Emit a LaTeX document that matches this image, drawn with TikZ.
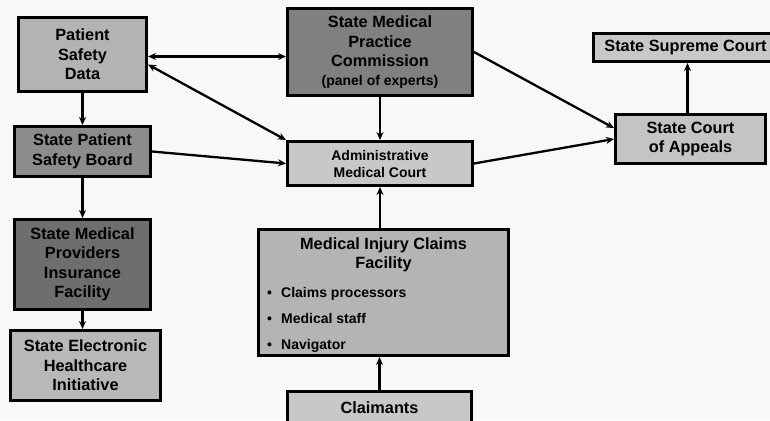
\documentclass[tikz,border=0pt]{standalone}
\usepackage{fontspec}
\setmainfont{Liberation Sans}
\usetikzlibrary{arrows.meta,calc}
\definecolor{bg}{HTML}{F8F8F8}
\definecolor{cA}{HTML}{B3B3B3}
\definecolor{cB}{HTML}{8C8C8C}
\definecolor{cC}{HTML}{808080}
\definecolor{cD}{HTML}{C8C8C8}
\definecolor{cE}{HTML}{C4C4C4}
\definecolor{cF}{HTML}{6E6E6E}
\definecolor{cG}{HTML}{B8B8B8}
\definecolor{cH}{HTML}{B4B4B4}
\begin{document}
\begin{tikzpicture}[x=1pt,y=-1pt,
  box/.style={draw=black, line width=3pt, inner sep=0pt, align=center,
    font=\bfseries\fontsize{16.3}{19.5}\selectfont},
  smalltxt/.style={font=\bfseries\fontsize{14}{17}\selectfont},
  bigtxt/.style={font=\bfseries\fontsize{16.3}{19.5}\selectfont, inner sep=0pt, align=center},
  bullet/.style={font=\bfseries\fontsize{14}{17}\selectfont, inner sep=0pt, anchor=west, text height=10pt, text depth=3pt},
  arr/.style={line width=2.3pt, -{Stealth[length=8pt,width=7pt]}},
  darr/.style={line width=2.3pt, {Stealth[length=8pt,width=7pt]}-{Stealth[length=8pt,width=7pt]}}]
\useasboundingbox[fill=bg] (0,0) rectangle (770,420);

\node[box, fill=cA, minimum width=128pt, minimum height=74pt] (psd) at (82.5,54.5) {Patient\\Safety\\Data};
\node[box, fill=cB, minimum width=136pt, minimum height=50pt] (spsb) at (82.5,151.5) {State Patient\\Safety Board};
\node[box, fill=cF, minimum width=136pt, minimum height=90pt] (smpif) at (82.5,264.5) {State Medical\\Providers\\Insurance\\Facility};
\node[box, fill=cG, minimum width=150pt, minimum height=70pt] (sehi) at (85.5,365.5) {State Electronic\\Healthcare\\Initiative};

\node[box, fill=cC, minimum width=185pt, minimum height=87pt] (smpc) at (380,52) {State Medical\\Practice\\Commission\\[-1pt]{\fontsize{14}{17}\selectfont (panel of experts)}};
\node[box, fill=cD, minimum width=185pt, minimum height=44pt, smalltxt] (amc) at (380,163.5) {Administrative\\Medical Court};

\node[box, fill=cH, minimum width=250pt, minimum height=126pt] (micf) at (383.5,292.5) {};
\node[bigtxt] (micft) at (383.5,255) {Medical Injury Claims\\Facility};
\node[bullet] (b1) at (267,293.5) {\makebox[14pt][l]{\textbullet}Claims processors};
\node[bullet] (b2) at (267,319.5) {\makebox[14pt][l]{\textbullet}Medical staff};
\node[bullet] (b3) at (267,345.5) {\makebox[14pt][l]{\textbullet}Navigator};

\node[box, fill=cD, minimum width=184pt, minimum height=50pt] (claim) at (379.5,416) {};
\node[bigtxt] (claimt) at (379.5,408) {Claimants};

\node[box, fill=cD, minimum width=184pt, minimum height=28pt] (ssc) at (685.5,47.5) {State Supreme Court};
\node[box, fill=cE, minimum width=150pt, minimum height=49pt] (sca) at (690.5,139) {State Court\\of Appeals};

% connectors
\draw[darr] ([yshift=-2pt]psd.east) -- ([yshift=-2pt]psd.east -| smpc.west);
\draw[darr] ($(psd.north east)!0.63!(psd.south east)$) -- (amc.north west);
\draw[arr] (psd.south) -- (spsb.north);
\draw[arr] (spsb.east) -- (amc.west);
\draw[arr] (spsb.south) -- (smpif.north);
\draw[arr] (smpif.south) -- (smpif.south |- sehi.north);
\draw[arr] (smpc.south) -- (amc.north);
\draw[arr] (smpc.east) -- ($(sca.north west)!0.29!(sca.south west)$);
\draw[arr] (amc.east) -- (sca.west);
\draw[arr] ([xshift=-3pt]sca.north) -- ([xshift=-3pt]sca.north |- ssc.south);
\draw[arr] (amc.south |- micf.north) -- (amc.south);
\draw[arr] (claim.north) -- (claim.north |- micf.south);
\end{tikzpicture}
\end{document}
